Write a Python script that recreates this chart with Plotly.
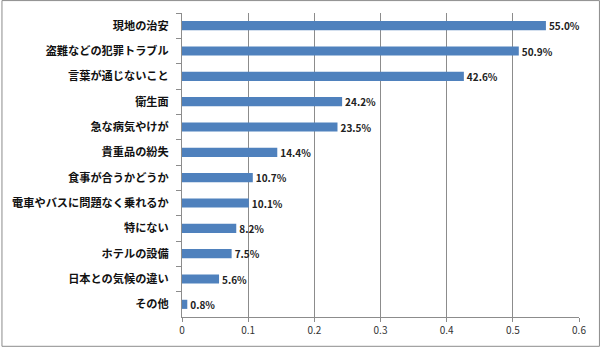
import plotly.graph_objects as go

categories = ["現地の治安", "盗難などの犯罪トラブル", "言葉が通じないこと", "衛生面", "急な病気やけが",
              "貴重品の紛失", "食事が合うかどうか", "電車やバスに問題なく乗れるか", "特にない",
              "ホテルの設備", "日本との気候の違い", "その他"]
values = [0.550, 0.509, 0.426, 0.242, 0.235, 0.144, 0.107, 0.101, 0.082, 0.075, 0.056, 0.008]
tick_vals = [0, 0.1, 0.2, 0.3, 0.4, 0.5, 0.6]
tick_text = ["0", "0.1", "0.2", "0.3", "0.4", "0.5", "0.6"]

W, H = 600, 349
L, R, T, B = 181, 21, 13, 30
pw, ph = W - L - R, H - T - B

fig = go.Figure(go.Bar(
    y=categories, x=values, orientation="h",
    marker=dict(color="#4F81BD", line=dict(width=0)),
    width=0.36,
    texttemplate="%{x:.1%}", textposition="outside", cliponaxis=False,
    constraintext="none",
    textfont=dict(family="Noto Sans CJK JP", size=10, color="#222", weight="bold"),
))

fig.update_layout(
    width=W, height=H, margin=dict(l=L, r=R, t=T, b=B),
    paper_bgcolor="white", plot_bgcolor="white", showlegend=False,
    font=dict(family="Noto Sans CJK JP", color="#111"),
    xaxis=dict(range=[0, 0.6], tickvals=tick_vals, ticktext=tick_text,
               showgrid=True, gridcolor="#8c8c8c", gridwidth=1,
               showline=True, linecolor="#8c8c8c", linewidth=1,
               ticks="outside", ticklen=4, tickcolor="#8c8c8c",
               tickfont=dict(size=10, color="#333"), zeroline=False),
    yaxis=dict(autorange="reversed", showline=True, linecolor="#8c8c8c", linewidth=1,
               ticks="outside", ticklen=5, tickcolor="#8c8c8c", tickson="boundaries",
               ticklabelstandoff=10,
               tickfont=dict(size=11.2, color="#111", weight="bold"), showgrid=False),
    bargap=0.6,
    shapes=[dict(type="rect", xref="paper", yref="paper",
                 x0=(0.5 - L) / pw, x1=(W - 0.5 - L) / pw,
                 y0=(H - B - (H - 0.5)) / ph, y1=(H - B - 0.5) / ph,
                 line=dict(color="#8c8c8c", width=1), layer="below")],
)

fig.write_html("out.html")
